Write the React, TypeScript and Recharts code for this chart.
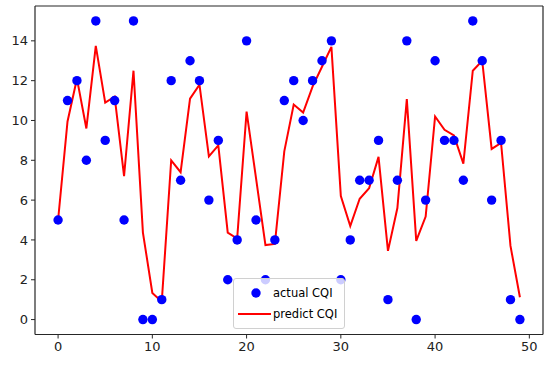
import React from "react";
import { ComposedChart, Line, Scatter, XAxis, YAxis, ReferenceLine } from "recharts";

const indices: number[] = Array.from({ length: 50 }, (_, i) => i);
const actualCQI: number[] = [5, 11, 12, 8, 15, 9, 11, 5, 15, 0, 0, 1, 12, 7, 13, 12, 6, 9, 2, 4, 14, 5, 2, 4, 11, 12, 10, 12, 13, 14, 2, 4, 7, 7, 9, 1, 7, 14, 0, 6, 13, 9, 9, 7, 15, 13, 6, 9, 1, 0];
const predictCQI: number[] = [5.0, 9.95, 12.1, 9.6, 13.75, 10.9, 11.2, 7.2, 12.5, 4.37, 1.34, 0.9, 8.0, 7.4, 11.1, 11.8, 8.2, 8.75, 4.37, 4.07, 10.45, 7.1, 3.74, 3.8, 8.45, 10.8, 10.4, 11.7, 12.7, 13.7, 6.2, 4.7, 6.07, 6.6, 8.17, 3.45, 5.6, 11.07, 3.95, 5.17, 10.2, 9.53, 9.25, 7.83, 12.5, 13.0, 8.57, 8.87, 3.7, 1.12];
const xTicks: number[] = [0, 10, 20, 30, 40, 50];
const yTicks: number[] = [0, 2, 4, 6, 8, 10, 12, 14];
const xDomain: [number, number] = [-2.45, 51.45];
const yDomain: [number, number] = [-0.75, 15.75];

const data = indices.map((x, i) => ({ x, actual: actualCQI[i], predict: predictCQI[i] }));

const FONT = "'DejaVu Sans', sans-serif";
const AXIS = "#262626";

const Dot = (props: any) => {
  const { cx, cy } = props;
  if (cx == null || cy == null) return null;
  return <circle cx={cx} cy={cy} r={4.7} fill="#0000ff" />;
};

const LegendBox = () => (
  <div
    style={{
      position: "absolute",
      left: 233,
      top: 278,
      background: "rgba(255,255,255,0.8)",
      border: "1px solid #d0d0d0",
      borderRadius: 3,
      width: 112,
      height: 51,
      boxSizing: "border-box",
      fontFamily: FONT,
      fontSize: 11.5,
      color: "#000",
      padding: "3px 0 0 4px",
    }}
  >
    <div style={{ display: "flex", alignItems: "center", height: 21 }}>
      <svg width={34} height={12}>
        <circle cx={18} cy={6} r={4.7} fill="#0000ff" />
      </svg>
      <span style={{ marginLeft: 1 }}>actual CQI</span>
    </div>
    <div style={{ display: "flex", alignItems: "center", height: 21 }}>
      <svg width={34} height={12}>
        <line x1={0} y1={6} x2={33} y2={6} stroke="#ff0000" strokeWidth={2} />
      </svg>
      <span style={{ marginLeft: 1 }}>predict CQI</span>
    </div>
  </div>
);

export default function App() {
  return (
    <div style={{ position: "absolute", left: 0, top: 0, width: 550, height: 365, background: "#fff" }}>
      <ComposedChart width={550} height={365} data={data} margin={{ top: 6, right: 7, bottom: 0, left: 0 }}>
        <XAxis
          dataKey="x"
          type="number"
          domain={xDomain}
          ticks={xTicks}
          allowDataOverflow
          height={30.5}
          tickSize={4}
          tickMargin={3}
          stroke={AXIS}
          axisLine={{ stroke: AXIS, strokeWidth: 1.2 }}
          tick={{ fill: "#222", fontSize: 13, fontFamily: FONT }}
        />
        <YAxis
          type="number"
          domain={yDomain}
          ticks={yTicks}
          allowDataOverflow
          width={35}
          tickSize={4}
          tickMargin={3}
          stroke={AXIS}
          axisLine={{ stroke: AXIS, strokeWidth: 1.2 }}
          tick={{ fill: "#222", fontSize: 13, fontFamily: FONT }}
        />
        <ReferenceLine y={yDomain[1]} stroke={AXIS} strokeWidth={1.2} ifOverflow="visible" />
        <ReferenceLine x={xDomain[1]} stroke={AXIS} strokeWidth={1.2} ifOverflow="visible" />
        <Scatter name="actual CQI" dataKey="actual" shape={<Dot />} isAnimationActive={false} />
        <Line
          name="predict CQI"
          dataKey="predict"
          type="linear"
          stroke="#ff0000"
          strokeWidth={2}
          dot={false}
          activeDot={false}
          isAnimationActive={false}
        />
      </ComposedChart>
      <LegendBox />
    </div>
  );
}
